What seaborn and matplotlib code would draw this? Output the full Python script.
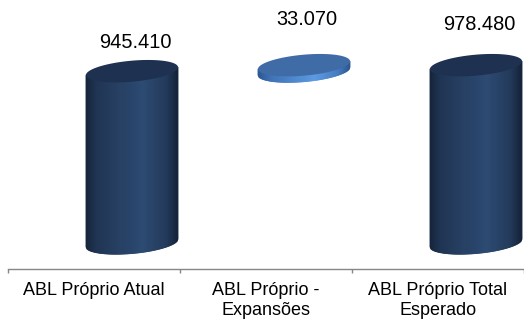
import numpy as np
import pandas as pd
import matplotlib
matplotlib.use("Agg")
import matplotlib.pyplot as plt
import seaborn as sns
from matplotlib.collections import PolyCollection
from matplotlib.patches import Polygon
from matplotlib.colors import LinearSegmentedColormap
from matplotlib.transforms import IdentityTransform

# Waterfall: current GLA, expansions, expected total
categories = ["ABL Próprio Atual", "ABL Próprio -\nExpansões", "ABL Próprio Total\nEsperado"]
values = [945.410, 33.070, 978.480]
value_labels = ["945.410", "33.070", "978.480"]
starts = [0.0, 945.410, 0.0]          # level each step starts from
kinds = ["total", "step", "total"]

sns.set_theme(style="white")
plt.rcParams["font.family"] = ["Liberation Sans", "DejaVu Sans"]

df = pd.DataFrame({
    "categoria": categories,
    "inicio": starts,
    "topo": np.add(starts, values),
    "tipo": kinds,
})

fig = plt.figure(figsize=(5.24, 3.20), dpi=100)
ax = fig.add_axes([8 / 524, 51 / 320, 516 / 524, 269 / 320])

sns.barplot(data=df, x="categoria", y="topo", width=0.535, color="#203a5e", ax=ax)
ax.set_xlim(-0.5, 2.5)
ax.set_ylim(0, 1480)

# cylinder styling (display-pixel geometry for the 3D look)
depth_shift = np.array([38.0, 26.0])   # floor set back behind the axis line
minor_r = 10.5                         # half height of the elliptical faces
shear = 0.085                          # perspective tilt of the faces

dark_body = LinearSegmentedColormap.from_list(
    "dark_body",
    [(0.0, "#16243a"), (0.12, "#1f3453"), (0.62, "#2c4a72"), (0.88, "#213959"), (1.0, "#15233a")])
light_body = LinearSegmentedColormap.from_list(
    "light_body",
    [(0.0, "#2c5793"), (0.15, "#3f72b6"), (0.62, "#5c9ae2"), (0.88, "#4479bf"), (1.0, "#2d5891")])
styles = {
    "total": (dark_body, "#1e3150"),
    "step": (light_body, "#3f6ca7"),
}


def draw_cylinder(ax, x0, width, y_lo, y_hi, cmap, top_color, n=90):
    xl, yl = ax.transData.transform((x0, y_lo)) + depth_shift
    xr, yh = ax.transData.transform((x0 + width, y_hi)) + depth_shift
    xc, a = (xl + xr) / 2, (xr - xl) / 2

    def edge(x, yc, sign):
        u = np.clip((x - xc) / a, -1, 1)
        return yc + shear * (x - xc) + sign * minor_r * np.sqrt(1 - u ** 2)

    xs = np.linspace(xl, xr, n + 1)
    strips = []
    for xa, xb in zip(xs[:-1], xs[1:]):
        strips.append([(xa, edge(xa, yl, -1)), (xb, edge(xb, yl, -1)),
                       (xb, edge(xb, yh, 0)), (xa, edge(xa, yh, 0))])
    mids = (xs[:-1] + xs[1:]) / 2
    cols = cmap((mids - xl) / (xr - xl))
    body = PolyCollection(strips, facecolors=cols, edgecolors=cols, linewidths=0.6,
                          transform=IdentityTransform(), zorder=3)
    body.set_clip_on(False)
    ax.add_collection(body, autolim=False)

    t = np.linspace(0, 2 * np.pi, 240)
    top = np.column_stack([xc + a * np.cos(t),
                           yh + minor_r * np.sin(t) + shear * a * np.cos(t)])
    face = Polygon(top, closed=True, facecolor=top_color, edgecolor="none",
                   transform=IdentityTransform(), zorder=4)
    face.set_clip_on(False)
    ax.add_patch(face)


bars = list(ax.patches)
for bar, (_, row) in zip(bars, df.iterrows()):
    cmap, top_color = styles[row["tipo"]]
    draw_cylinder(ax, bar.get_x(), bar.get_width(), row["inicio"], bar.get_height(),
                  cmap, top_color)
    bar.remove()

# value labels above each cylinder
label_rise = [55, 72, 67]
for i, (txt, top) in enumerate(zip(value_labels, df["topo"])):
    ax.annotate(txt, xy=(i, top), xytext=(41, label_rise[i]), textcoords="offset pixels",
                ha="center", va="center", fontsize=14.4, color="black",
                annotation_clip=False)

# category axis: ticks between categories, labels centred
for side in ["top", "left", "right"]:
    ax.spines[side].set_visible(False)
ax.spines["bottom"].set_color("#868686")
ax.spines["bottom"].set_linewidth(1.0)
ax.set_xticks([-0.5, 0.5, 1.5, 2.5])
ax.set_xticklabels([])
ax.set_xticks([0, 1, 2], minor=True)
ax.set_xticklabels(categories, minor=True)
ax.tick_params(axis="x", which="major", bottom=True, length=3, width=1.0,
               color="#868686", direction="out")
ax.tick_params(axis="x", which="minor", bottom=True, length=0, pad=9.5,
               labelsize=13, labelcolor="black")
for lab in ax.get_xticklabels(minor=True):
    lab.set_linespacing(1.2)
ax.set_yticks([])
ax.set_xlabel("")
ax.set_ylabel("")
ax.patch.set_visible(False)

fig.savefig("out.png", dpi=100, facecolor="white")
